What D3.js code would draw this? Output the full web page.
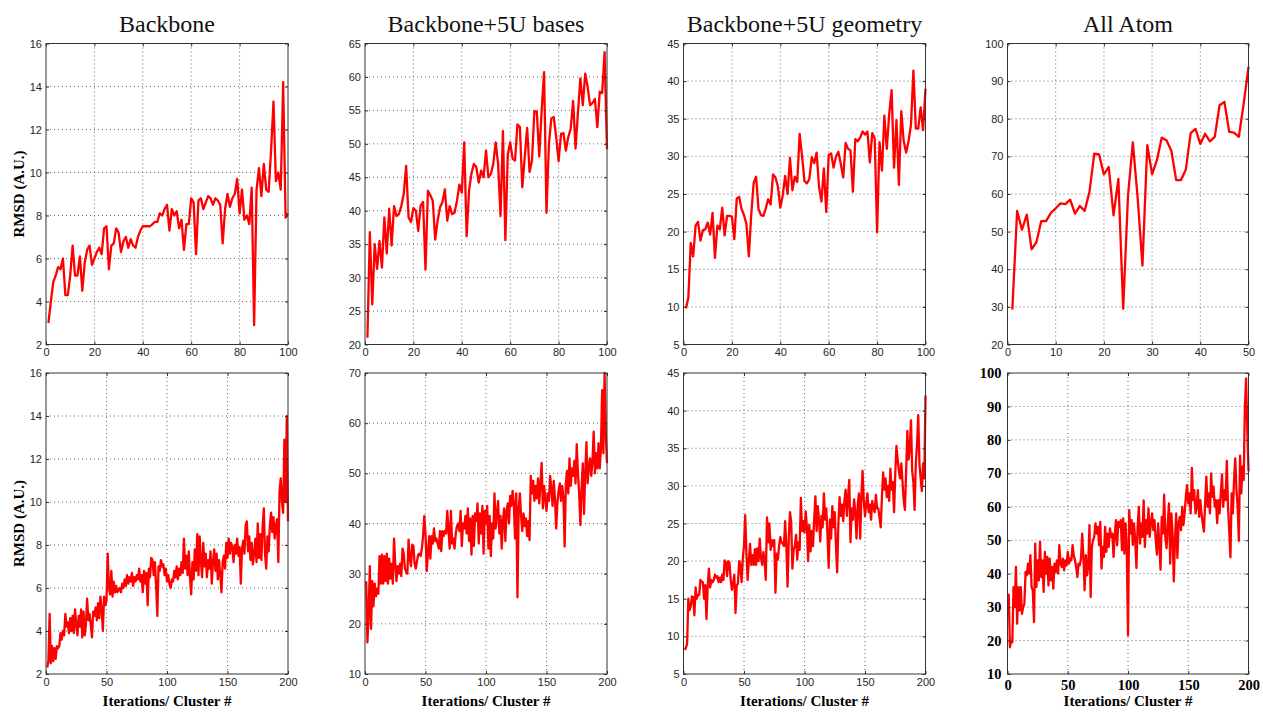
<!DOCTYPE html>
<html>
<head>
<meta charset="utf-8">
<script src="https://cdn.jsdelivr.net/npm/d3@7"></script>
<style>
  body { margin: 0; background: #fff; }
  svg { display: block; font-family: "Liberation Sans", Arial, sans-serif; }
  .grid line { stroke: #444; stroke-width: 0.8; stroke-dasharray: 1,3; }
  .tick line { stroke: #333; }
</style>
</head>
<body>
<svg id="chart" width="1263" height="713"></svg>
<script>
// column titles
const titles = ["Backbone", "Backbone+5U bases", "Backbone+5U geometry", "All Atom"];

// top row: 100 iterations (50 for All Atom)
const backboneTop = [
  3.0, 4.0, 4.9, 5.2, 5.6, 5.5, 6.0, 4.3, 4.3, 5.2,
  6.6, 5.2, 5.2, 6.1, 4.5, 5.8, 6.4, 6.6, 5.7, 6.0,
  6.3, 6.5, 6.2, 7.4, 7.5, 5.5, 6.6, 6.7, 7.4, 7.2,
  6.3, 6.8, 7.0, 6.5, 6.9, 6.6, 6.5, 7.0, 7.3, 7.5,
  7.5, 7.5, 7.5, 7.6, 7.7, 7.7, 8.1, 8.0, 8.3, 8.5,
  7.3, 8.3, 8.0, 8.2, 7.4, 7.8, 6.4, 7.6, 7.6, 8.8,
  8.6, 6.2, 8.7, 8.8, 8.3, 8.6, 8.9, 8.8, 8.5, 8.8,
  8.7, 8.5, 6.7, 8.3, 9.0, 8.4, 8.8, 9.0, 9.7, 8.1,
  9.2, 7.8, 8.0, 7.6, 9.3, 2.9, 9.2, 10.2, 8.9, 10.4,
  9.2, 9.1, 11.0, 13.3, 9.6, 10.0, 9.2, 14.2, 7.9, 8.1
];
const basesTop = [
  21, 36.8, 26, 35, 31.3, 35.5, 31.5, 39, 33.6, 40.3,
  34.8, 40.7, 39.2, 39.5, 40.7, 42.5, 46.7, 39, 38.3, 40.4,
  40, 37, 40.8, 41.3, 31.2, 43, 42.3, 41.5, 35.7, 38.5,
  40.5, 41.3, 43.2, 38.5, 40.7, 39.5, 39.7, 41.5, 43.9, 42.7,
  50.2, 36.2, 43, 45.6, 47, 46.5, 44.2, 46, 45, 49,
  45, 45.5, 47, 50.2, 47, 39.2, 51.9, 35.6, 48.4, 50.2,
  47.8, 47.5, 52.9, 52.5, 43.5, 48, 52.4, 45.8, 47.5, 54.9,
  54.8, 48.1, 55, 60.7, 39.7, 50, 53.8, 54, 51, 47.4,
  51.5, 51.6, 49, 51, 52.3, 56.4, 49.3, 54.7, 59.8, 55.8,
  60.5, 58.5, 55.8, 56.1, 56.7, 52.5, 57.8, 57.6, 63.7, 49.2
];
const geometryTop = [
  9.8, 11.2, 18.5, 16.7, 20.8, 21.3, 18.8, 20.2, 20.3, 21.2,
  19.6, 22.5, 16.5, 20.8, 20.3, 23.2, 19.5, 22.1, 22.1, 22.0,
  19.0, 24.4, 24.6, 23.0, 22.2, 21.0, 16.7, 22.3, 26.5, 27.3,
  23.0, 22.2, 22.1, 23.1, 24.3, 23.6, 27.6, 27.2, 26.0, 23.2,
  24.8, 27.4, 25.0, 29.8, 25.5, 27.3, 26.6, 33.0, 30.0, 26.7,
  26.4, 27.0, 29.9, 29.1, 30.5, 26.0, 24.0, 28.4, 22.6, 30.2,
  30.4, 28.5, 30.0, 30.6, 29.0, 27.2, 31.8, 31.0, 30.8, 25.3,
  32.3, 32.0, 32.5, 33.3, 32.9, 33.3, 29.2, 33.1, 32.4, 19.9,
  31.9, 28.1, 35.4, 31.0, 35.6, 38.8, 28.5, 34.8, 26.2, 36.0,
  32.0, 30.5, 32.0, 34.2, 41.4, 33.7, 33.7, 36.5, 33.5, 39.0
];
const allAtomTop = [
  29.3, 55.5, 50.5, 54.5, 45.3, 47.2, 52.8, 52.8, 55.0, 56.2,
  57.5, 57.3, 58.5, 54.8, 56.8, 55.5, 60.5, 70.7, 70.5, 65.2,
  67.2, 54.3, 64.0, 29.5, 59.5, 73.7, 59.0, 41.0, 73.0, 65.3,
  69.0, 75.0, 74.2, 71.5, 63.7, 63.7, 66.5, 76.2, 77.3, 73.3,
  76.0, 74.0, 75.2, 83.6, 84.5, 76.5, 76.3, 75.2, 84.0, 93.8
];

// bottom row: 200 clusters
const backboneBottom = [
  2.3, 2.6, 4.8, 2.5, 3.3, 2.6, 3.2, 2.7, 3.3, 3.2,
  3.3, 3.9, 3.6, 4.0, 3.8, 4.8, 4.2, 4.4, 3.9, 4.6,
  4.0, 4.7, 3.9, 5.0, 4.3, 3.8, 4.7, 4.2, 5.0, 3.7,
  4.9, 3.8, 4.3, 5.5, 4.5, 4.8, 4.3, 3.7, 4.9, 4.7,
  5.1, 4.5, 5.3, 4.6, 5.6, 5.0, 4.0, 5.6, 5.2, 5.4,
  7.6, 6.0, 5.7, 6.8, 5.6, 6.3, 5.8, 6.1, 5.8, 5.9,
  6.0, 5.8, 6.2, 6.0, 6.4, 6.1, 6.6, 6.2, 6.5, 6.3,
  6.7, 6.1, 6.5, 6.3, 6.6, 6.4, 6.9, 6.3, 6.6, 5.8,
  6.8, 6.2, 6.7, 5.2, 6.9, 6.5, 7.4, 7.3, 6.6, 7.2,
  6.1, 4.7, 7.0, 6.8, 7.3, 7.0, 7.1, 6.6, 6.9, 6.3,
  6.6, 6.2, 6.0, 6.4, 6.3, 6.8, 6.5, 7.0, 6.4, 6.9,
  6.6, 7.2, 6.7, 8.3, 6.9, 7.5, 6.6, 7.7, 6.5, 5.7,
  7.2, 6.4, 7.8, 6.8, 8.5, 6.6, 8.4, 7.3, 6.5, 8.1,
  7.0, 7.6, 6.5, 7.3, 6.9, 7.7, 6.2, 7.2, 7.8, 6.8,
  7.6, 6.4, 7.3, 6.6, 5.8, 7.2, 7.5, 6.9, 8.1, 7.4,
  8.3, 7.6, 8.1, 7.9, 7.2, 8.0, 7.6, 8.3, 7.5, 7.9,
  6.2, 7.8, 8.2, 7.6, 8.9, 9.1, 7.7, 8.4, 7.3, 8.1,
  7.1, 7.6, 8.3, 7.2, 9.0, 7.4, 8.5, 7.3, 8.8, 9.7,
  7.6, 6.9, 8.4, 7.7, 8.9, 9.5, 8.6, 9.3, 8.3, 8.9,
  9.2, 7.2, 10.5, 11.1, 10.0, 9.5, 12.9, 10.0, 14.0, 9.1
];
const basesBottom = [
  28.5, 16.3, 22, 31.5, 19, 28.5, 23.5, 28, 25.5, 27,
  26, 33.5, 28, 33.8, 28, 33.5, 28.5, 34, 28, 33,
  29, 32, 28, 37, 32, 28.5, 31.5, 30, 32, 29.5,
  35, 34, 31, 30.5, 30, 36.8, 33, 31.5, 35.8, 35.5,
  32, 31, 32.5, 33.8, 34, 33.5, 35, 37.5, 41.5, 38,
  30.5, 34, 37.5, 33, 37.5, 36, 39, 36.5, 37, 36,
  35, 38.5, 34.5, 38.5, 37.5, 38.5, 38, 42.5, 38.5, 35,
  42.5, 36, 37, 35, 38, 39.5, 40, 38.5, 42.5, 35.5,
  40, 39, 41.5, 38, 43, 36.5, 41, 33.8, 41.5, 35.5,
  42, 40.5, 44, 36, 42, 38, 43.5, 34, 42.5, 40,
  43.5, 35, 41.5, 33.5, 40, 37, 46, 39, 42, 44.5,
  38, 41.5, 35, 40.5, 43, 36.5, 42.5, 44, 40, 45.5,
  43.5, 46.5, 44, 37, 46, 25.3, 43, 46, 41.5, 38.5,
  42, 39.5, 41, 37.5, 40.5, 36.7, 49.5, 46, 48.5, 44.5,
  47.5, 45, 49, 44, 48, 52.1, 43, 47.5, 45, 42.5,
  46, 44.5, 49.5, 47, 43.5, 48.5, 45, 39, 44, 46.5,
  48, 44.5, 47.5, 45, 35.4, 48, 50.5, 46, 53, 47.5,
  51, 49.5, 52.5, 48, 55.8, 50, 46, 39.7, 47, 52,
  41.9, 50, 56.2, 48, 51.5, 53, 49.5, 52.5, 58.3, 50,
  54, 51, 56, 51, 55, 66.6, 54, 70, 58, 52
];
const geometryBottom = [
  8.2, 8.5, 9.0, 15.0, 13.5, 14.0, 15.3, 15.2, 12.8, 16.5,
  15.0, 15.5, 15.5, 17.5, 17.3, 17.2, 15.0, 16.8, 12.3, 16.7,
  19.0, 16.5, 17.5, 17.2, 17.5, 18.2, 17.8, 18.0, 17.2, 17.8,
  17.2, 18.2, 17.5, 20.1, 19.8, 18.0, 20.0, 19.8, 17.5, 16.2,
  17.0, 18.2, 13.1, 16.8, 17.0, 20.0, 19.5, 17.2, 20.3, 22.0,
  26.1, 21.0, 17.5, 20.0, 22.3, 19.5, 20.8, 19.5, 21.6, 19.5,
  21.7, 20.0, 23.0, 20.5, 19.5, 21.2, 20.0, 17.5, 25.8, 22.5,
  25.0, 21.5, 22.8, 22.0, 22.8, 15.8, 21.0, 20.2, 22.0, 23.2,
  22.5, 22.3, 22.0, 25.3, 22.0, 16.6, 23.0, 26.5, 25.2, 19.0,
  21.5, 22.0, 23.5, 20.2, 22.5, 21.5, 28.4, 24.0, 25.3, 23.8,
  26.6, 24.5, 20.0, 24.8, 21.3, 24.0, 22.0, 25.5, 28.6, 24.0,
  27.3, 25.5, 22.6, 26.0, 24.5, 29.0, 25.5, 27.0, 23.5, 19.1,
  25.5, 23.0, 27.3, 24.5, 26.5, 22.0, 18.5, 25.0, 28.5, 26.0,
  27.5, 25.3, 28.0, 29.5, 26.0, 28.5, 30.8, 22.5, 27.0, 25.5,
  28.2, 26.5, 23.0, 27.5, 29.0, 23.0, 28.5, 32.0, 28.0, 26.0,
  27.5, 29.0, 26.5, 27.5, 25.5, 28.0, 27.0, 26.5, 28.8, 27.0,
  27.0, 25.8, 24.5, 28.5, 31.8, 29.5, 31.0, 28.5, 30.0, 28.0,
  32.3, 29.5, 30.5, 26.5, 31.5, 35.3, 33.5, 32.0, 31.0, 33.0,
  30.5, 28.0, 26.8, 32.0, 37.3, 33.5, 35.0, 38.7, 32.0, 30.5,
  26.8, 33.0, 35.5, 39.4, 33.0, 31.0, 29.3, 33.0, 31.0, 42.0
];
const allAtomBottom = [
  34, 18, 20, 19.5, 36, 30, 42, 25, 36, 29,
  36, 28, 30, 31, 40.5, 39.5, 43, 40, 45.5, 36,
  35, 25.5, 49, 36, 44, 38, 49.5, 39, 44, 34.5,
  46.5, 40, 45, 36.5, 44.5, 38, 42, 35.5, 43, 40.5,
  44, 40, 48.5, 43, 42, 44.5, 41, 44, 42.5, 46.5,
  43, 44.5, 44, 48.5, 45.5, 44, 42, 39, 43, 42.5,
  44.5, 52, 45, 35, 45.5, 39.5, 42, 54.5, 33, 48,
  50, 51, 55, 52, 54, 48.5, 55.5, 41.5, 48, 45,
  54, 46.5, 52, 48, 53.5, 51, 52, 45, 51.5, 56,
  48.5, 55.5, 54, 56, 47, 56.5, 46, 55, 47, 21.5,
  59, 52, 56, 48.6, 55, 50, 41.7, 54, 60, 49,
  55, 51, 61.9, 48, 56, 52, 59.5, 51, 55, 58,
  53, 56, 50, 45.7, 55, 49, 41.2, 57, 52, 63.6,
  51, 47.6, 55, 61, 43, 58, 52, 37.7, 50, 58,
  44.7, 55, 57, 53, 60, 54.5, 58, 63, 66.5, 61,
  64, 58, 71.6, 62, 65, 58, 60, 65, 57, 62,
  58, 55, 52.6, 61, 69, 60, 64, 58, 70, 63,
  66, 60, 62, 55.1, 62, 58, 64, 69.7, 60, 65,
  62, 73.7, 60, 53, 44.9, 64, 58, 68, 74.5, 65,
  60, 49.8, 75.3, 64, 72, 68, 90, 98.4, 83.3, 70.6
];

// axis ranges and ticks
const xTicks100 = [0, 20, 40, 60, 80, 100];
const xTicks50 = [0, 10, 20, 30, 40, 50];
const xTicks200 = [0, 50, 100, 150, 200];
const yTicksTop = [
  [2, 4, 6, 8, 10, 12, 14, 16],
  [20, 25, 30, 35, 40, 45, 50, 55, 60, 65],
  [5, 10, 15, 20, 25, 30, 35, 40, 45],
  [20, 30, 40, 50, 60, 70, 80, 90, 100]
];
const yTicksBottom = [
  [2, 4, 6, 8, 10, 12, 14, 16],
  [10, 20, 30, 40, 50, 60, 70],
  [5, 10, 15, 20, 25, 30, 35, 40, 45],
  [10, 20, 30, 40, 50, 60, 70, 80, 90, 100]
];
const yLabel = "RMSD (A.U.)";
const xLabel = "Iterations/ Cluster #";

const svg = d3.select("#chart");
const colX = [46, 365, 683.5, 1007.5];
const colW = [242, 242, 242, 241];
const rowY = [43.5, 373];
const rowH = 301;

function drawPanel(col, row, values, xTicks, yTicks, boldTicks) {
  const w = colW[col], h = rowH;
  const g = svg.append("g").attr("transform", `translate(${colX[col]},${rowY[row]})`);
  const x = d3.scaleLinear().domain(d3.extent(xTicks)).range([0, w]);
  const y = d3.scaleLinear().domain(d3.extent(yTicks)).range([h, 0]);

  // dotted grid at the major ticks
  const grid = g.append("g").attr("class", "grid");
  grid.selectAll(".gx").data(xTicks.slice(1, -1)).join("line").attr("class", "gx")
    .attr("x1", d => x(d)).attr("x2", d => x(d)).attr("y1", 0).attr("y2", h);
  grid.selectAll(".gy").data(yTicks.slice(1, -1)).join("line").attr("class", "gy")
    .attr("y1", d => y(d)).attr("y2", d => y(d)).attr("x1", 0).attr("x2", w);

  g.append("path").datum(values)
    .attr("fill", "none")
    .attr("stroke", "#ff0000")
    .attr("stroke-width", 2.3)
    .attr("stroke-linejoin", "round")
    .attr("d", d3.line().x((d, i) => x(i + 1)).y(d => y(d)));

  const pad = boldTicks ? 6 : 4;
  const styleText = sel => {
    sel.select(".domain").remove();
    sel.selectAll("text")
      .attr("fill", boldTicks ? "#000" : "#262626")
      .style("font-family", boldTicks ? "'Liberation Serif', 'Times New Roman', serif" : "'Liberation Sans', Arial, sans-serif")
      .style("font-size", boldTicks ? "14.5px" : "11px")
      .style("font-weight", boldTicks ? "bold" : "normal");
  };
  g.append("g").attr("transform", `translate(0,${h})`)
    .call(d3.axisBottom(x).tickValues(xTicks).tickFormat(d3.format("d")).tickSizeInner(-3).tickSizeOuter(0).tickPadding(pad))
    .call(styleText);
  g.append("g")
    .call(d3.axisLeft(y).tickValues(yTicks).tickFormat(d3.format("d")).tickSizeInner(-3).tickSizeOuter(0).tickPadding(pad))
    .call(styleText);
  g.append("g")
    .call(d3.axisTop(x).tickValues(xTicks).tickFormat("").tickSizeInner(-3).tickSizeOuter(0))
    .call(s => s.select(".domain").remove());
  g.append("g").attr("transform", `translate(${w},0)`)
    .call(d3.axisRight(y).tickValues(yTicks).tickFormat("").tickSizeInner(-3).tickSizeOuter(0))
    .call(s => s.select(".domain").remove());

  g.append("rect").attr("width", w).attr("height", h)
    .attr("fill", "none").attr("stroke", "#333").attr("stroke-width", 1);
}

const topData = [backboneTop, basesTop, geometryTop, allAtomTop];
const bottomData = [backboneBottom, basesBottom, geometryBottom, allAtomBottom];

topData.forEach((vals, c) => drawPanel(c, 0, vals, c === 3 ? xTicks50 : xTicks100, yTicksTop[c], false));
bottomData.forEach((vals, c) => drawPanel(c, 1, vals, xTicks200, yTicksBottom[c], c === 3));

// column titles
svg.selectAll(".title").data(titles).join("text").attr("class", "title")
  .attr("x", (d, i) => colX[i] + colW[i] / 2)
  .attr("y", 32)
  .attr("text-anchor", "middle")
  .style("font-family", "'Liberation Serif', 'Times New Roman', serif")
  .style("font-size", "24px")
  .attr("fill", "#111")
  .text(d => d);

// y labels
rowY.forEach(ry => {
  svg.append("text")
    .attr("transform", `translate(19,${ry + rowH / 2}) rotate(-90)`)
    .attr("text-anchor", "middle")
    .attr("dy", "0.35em")
    .style("font-family", "'Liberation Serif', 'Times New Roman', serif")
    .style("font-size", "15px")
    .style("font-weight", "bold")
    .text(yLabel);
});

// x labels under bottom row
colX.forEach((cx, i) => {
  svg.append("text")
    .attr("x", cx + colW[i] / 2)
    .attr("y", 706)
    .attr("text-anchor", "middle")
    .style("font-family", "'Liberation Serif', 'Times New Roman', serif")
    .style("font-size", "15px")
    .style("font-weight", "bold")
    .text(xLabel);
});
</script>
</body>
</html>
